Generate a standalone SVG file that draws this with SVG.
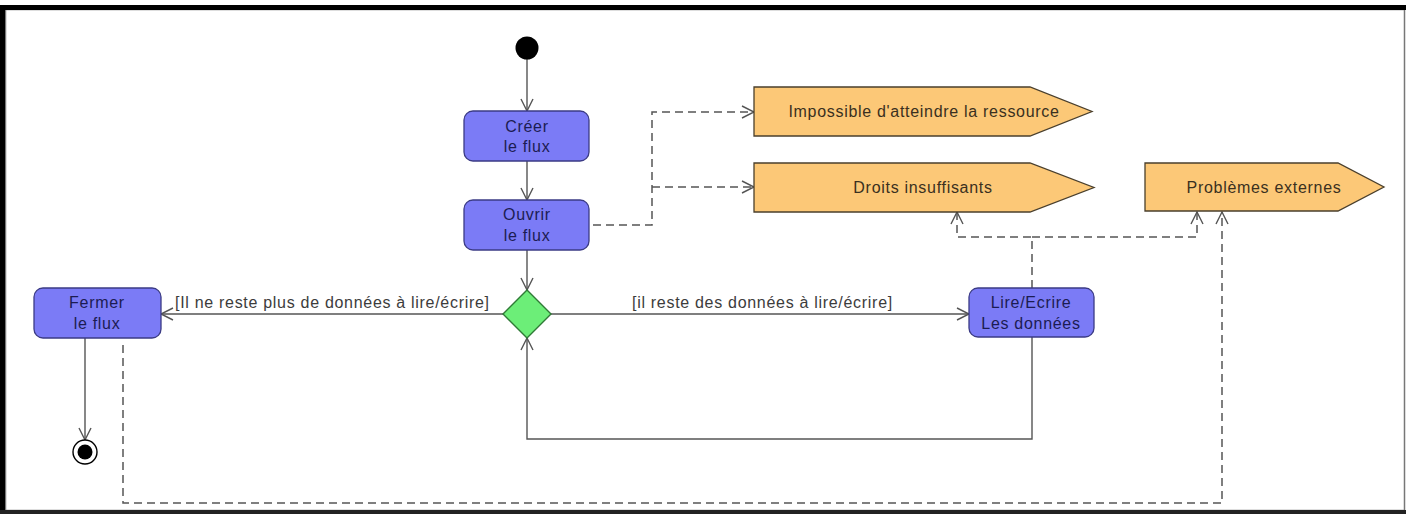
<svg xmlns="http://www.w3.org/2000/svg" width="1415" height="517" viewBox="0 0 1415 517">
<style>
text{font-family:"Liberation Sans",Arial,sans-serif;font-size:16px;letter-spacing:0.7px;text-anchor:middle}
.act{fill:#7b7bf6;stroke:#3b3b85;stroke-width:1.3}
.act-t{fill:#1c1c52}
.sig{fill:#fcc877;stroke:#4a3f2c;stroke-width:1.3}
.sig-t{fill:#3a3020}
.guard{fill:#3c3c3c;text-anchor:start}
.flow{fill:none;stroke:#555;stroke-width:1.4}
.dep{fill:none;stroke:#555;stroke-width:1.5;stroke-dasharray:8 5}
</style>
<defs>
<marker id="arr" markerUnits="userSpaceOnUse" markerWidth="14" markerHeight="14" refX="12" refY="6" orient="auto" overflow="visible">
<path d="M0,0 L12,6 L0,12" fill="none" stroke="#555" stroke-width="1.4" stroke-dasharray="none"/>
</marker>
</defs>
<rect x="0" y="0" width="1415" height="517" fill="#fff"/>
<g id="frame">
<rect x="5.5" y="9.5" width="1399" height="501" fill="#fff" stroke="#777" stroke-width="1.5"/>
<rect x="0" y="5" width="1406" height="5" fill="#000"/>
<rect x="0" y="5" width="5" height="509" fill="#000"/>
<rect x="0" y="510" width="1406" height="4" fill="#222"/>
</g>
<g id="connectors">
<path class="flow" d="M527,59 V111" marker-end="url(#arr)"/>
<path class="flow" d="M527,161 V200" marker-end="url(#arr)"/>
<path class="flow" d="M527,250 V290" marker-end="url(#arr)"/>
<path class="flow" d="M503,314 H161" marker-end="url(#arr)"/>
<path class="flow" d="M551,314 H969" marker-end="url(#arr)"/>
<path class="flow" d="M1032,337 V439 H527 V338" marker-end="url(#arr)"/>
<path class="flow" d="M85,338 V440" stroke="#777" stroke-width="2.2" marker-end="url(#arr)"/>
<path class="dep" d="M593,225 H652 V112 H754" marker-end="url(#arr)"/>
<path class="dep" d="M652,187 H754" marker-end="url(#arr)"/>
<path class="dep" d="M1032,288 V237 H957 V212" marker-end="url(#arr)"/>
<path class="dep" d="M1032,237 H1197 V212" marker-end="url(#arr)"/>
<path class="dep" d="M123,345 V503 H1222 V212" marker-end="url(#arr)"/>
<text class="guard" x="175" y="308">[Il ne reste plus de données à lire/écrire]</text>
<text class="guard" x="632" y="308">[il reste des données à lire/écrire]</text>
</g>
<g id="initial"><circle cx="527" cy="48" r="11.5" fill="#000"/></g>
<g id="creer">
<rect class="act" x="464" y="111" width="125" height="50" rx="9"/>
<text class="act-t" x="527" y="132">Créer</text>
<text class="act-t" x="527" y="152">le flux</text>
</g>
<g id="ouvrir">
<rect class="act" x="464" y="200" width="125" height="50" rx="9"/>
<text class="act-t" x="527" y="220">Ouvrir</text>
<text class="act-t" x="527" y="241">le flux</text>
</g>
<g id="decision">
<polygon points="527,290 551,314 527,338 503,314" fill="#6cee78" stroke="#2f7a36" stroke-width="1.4"/>
</g>
<g id="fermer">
<rect class="act" x="34" y="288" width="127" height="50" rx="9"/>
<text class="act-t" x="97" y="308">Fermer</text>
<text class="act-t" x="97" y="329">le flux</text>
</g>
<g id="lire">
<rect class="act" x="969" y="288" width="125" height="49" rx="9"/>
<text class="act-t" x="1031" y="308">Lire/Ecrire</text>
<text class="act-t" x="1031" y="329">Les données</text>
</g>
<g id="final">
<circle cx="85" cy="452" r="12" fill="#fff" stroke="#000" stroke-width="1.4"/>
<circle cx="85" cy="452" r="7.5" fill="#000"/>
</g>
<g id="impossible">
<polygon class="sig" points="754,87 1030,87 1092,111.5 1030,136 754,136"/>
<text class="sig-t" x="924" y="117">Impossible d'atteindre la ressource</text>
</g>
<g id="droits">
<polygon class="sig" points="754,163 1030,163 1094,187.5 1030,212 754,212"/>
<text class="sig-t" x="923" y="193">Droits insuffisants</text>
</g>
<g id="problemes">
<polygon class="sig" points="1145,163 1338,163 1384,187 1338,211 1145,211"/>
<text class="sig-t" x="1264" y="193">Problèmes externes</text>
</g>
</svg>
